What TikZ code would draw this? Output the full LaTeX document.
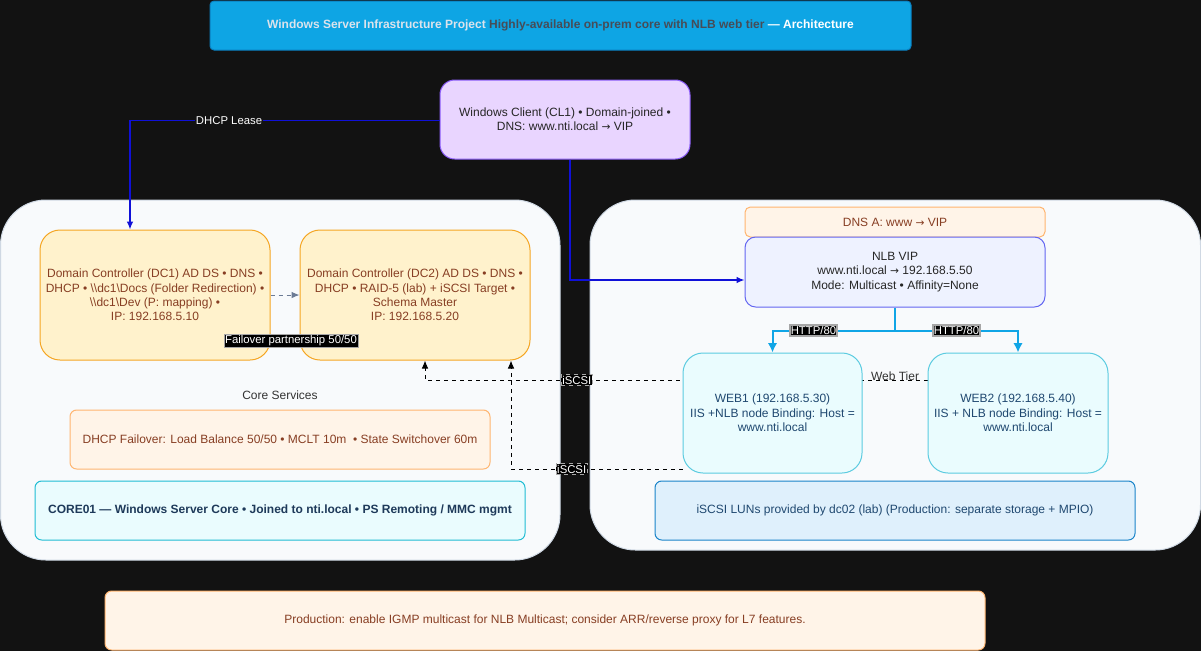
\documentclass[tikz,border=0pt]{standalone}
\usepackage{fontspec}
\setmainfont{Liberation Sans}
\newfontfamily\arrowfont{DejaVu Sans}
\newcommand{\toarr}{{\arrowfont\fontsize{8}{9}\selectfont →}}
\usetikzlibrary{arrows.meta}
\definecolor{bgdark}{HTML}{121212}
\definecolor{ttlfill}{HTML}{0EA5E4}
\definecolor{ttlline}{HTML}{0A7FC0}
\definecolor{ttlgrey}{HTML}{DCE3EC}
\definecolor{ttldark}{HTML}{474C57}
\definecolor{zonefill}{HTML}{F8FAFC}
\definecolor{zoneline}{HTML}{CFD8E3}
\definecolor{clfill}{HTML}{E9D5FF}
\definecolor{clline}{HTML}{8B5CF6}
\definecolor{dcfill}{HTML}{FFF2CC}
\definecolor{dcline}{HTML}{F5A623}
\definecolor{brown}{HTML}{873E23}
\definecolor{notefill}{HTML}{FFF4E8}
\definecolor{noteline}{HTML}{FFB570}
\definecolor{cyfill}{HTML}{EAFCFE}
\definecolor{cyline}{HTML}{1FBCD3}
\definecolor{cytext}{HTML}{1E3A5A}
\definecolor{nlbfill}{HTML}{EEF2FF}
\definecolor{nlbline}{HTML}{6366F1}
\definecolor{webline}{HTML}{5CCBE0}
\definecolor{webtext}{HTML}{1F4870}
\definecolor{lunfill}{HTML}{DFF0FC}
\definecolor{lunline}{HTML}{1A84C9}
\definecolor{lease}{HTML}{1010D8}
\definecolor{http}{HTML}{10A5E6}
\definecolor{slate}{HTML}{6C7B95}
\pgfdeclarelayer{back}
\pgfdeclarelayer{edges}
\pgfsetlayers{back,edges,main}
\tikzset{
  box/.style={draw, align=center, inner sep=1pt, line width=0.75pt, font=\fontsize{9}{10.8}\selectfont},
  lbl/.style={fill=black, draw=gray!70, text=white, inner sep=0.8pt, font=\fontsize{8.5}{9}\selectfont},
  plain/.style={text=#1, font=\fontsize{9}{10.8}\selectfont},
  leaseline/.style={draw=lease, line width=1pt, -{Latex[length=6pt,width=5pt]}},
  httpline/.style={draw=http, line width=1.5pt, -{Latex[length=7pt,width=7pt]}},
  iscsiline/.style={draw=black, line width=0.75pt, dashed, -{Latex[length=6pt,width=5pt]}}
}
\begin{document}
\begin{tikzpicture}[x=0.75pt,y=-0.75pt]
\begin{pgfonlayer}{back}
\fill[bgdark] (0,0) rectangle (1201,651);
\draw[fill=zonefill, draw=zoneline, line width=0.75pt, rounded corners=34pt] (0.5,200) rectangle (560,560);
\draw[fill=zonefill, draw=zoneline, line width=0.75pt, rounded corners=34pt] (590,200) rectangle (1200.5,550);
\end{pgfonlayer}

\node[box, fill=ttlfill, draw=ttlline, rounded corners=3pt, minimum width=525.75pt, minimum height=36.75pt] (title) at (560.5,25.5)
  {\bfseries\textcolor{ttlgrey}{Windows Server Infrastructure Project} \textcolor{ttldark}{Highly-available on-prem core with NLB web tier} \textcolor{white}{— Architecture}};
\node[box, fill=clfill, draw=clline, text=black!85, rounded corners=11pt, minimum width=187.5pt, minimum height=59.25pt] (cl1) at (565,119.5)
  {Windows Client (CL1) • Domain-joined •\\DNS: www.nti.local \toarr{} VIP};

\node[box, fill=dcfill, draw=dcline, text=brown, rounded corners=15pt, minimum width=172.5pt, minimum height=97.5pt] (dc1) at (155,295)
  {Domain Controller (DC1) AD DS • DNS •\\DHCP • \textbackslash\textbackslash dc1\textbackslash Docs (Folder Redirection) •\\\textbackslash\textbackslash dc1\textbackslash Dev (P: mapping) •\\IP: 192.168.5.10};
\node[box, fill=dcfill, draw=dcline, text=brown, rounded corners=15pt, minimum width=172.5pt, minimum height=97.5pt] (dc2) at (415,295)
  {Domain Controller (DC2) AD DS • DNS •\\DHCP • RAID-5 (lab) + iSCSI Target •\\Schema Master\\IP: 192.168.5.20};
\node[plain=black!80] (core) at (280,395) {Core Services};
\node[box, fill=notefill, draw=noteline, text=brown, rounded corners=5pt, minimum width=315pt, minimum height=44.25pt] (dhcp) at (280,439.5)
  {DHCP Failover: Load Balance 50/50 • MCLT 10m\ \ • State Switchover 60m};
\node[box, fill=cyfill, draw=cyline, text=cytext, rounded corners=5pt, minimum width=367.5pt, minimum height=44.25pt, font=\fontsize{9}{10.8}\selectfont\bfseries] (core01) at (280,510.5)
  {CORE01 — Windows Server Core • Joined to nti.local • PS Remoting / MMC mgmt};

\node[box, fill=notefill, draw=noteline, text=brown, rounded corners=4pt, minimum width=225pt, minimum height=22.5pt] (dnsa) at (895,222)
  {DNS A: www \toarr{} VIP};
\node[box, fill=nlbfill, draw=nlbline, text=black!85, rounded corners=8pt, minimum width=225pt, minimum height=52.5pt] (nlb) at (895,272)
  {NLB VIP\\www.nti.local \toarr{} 192.168.5.50\\Mode: Multicast • Affinity=None};
\node[box, fill=cyfill, draw=webline, text=webtext, rounded corners=15pt, minimum width=134.25pt, minimum height=90pt] (web1) at (772.5,413)
  {WEB1 (192.168.5.30)\\IIS +NLB node Binding: Host =\\www.nti.local};
\node[box, fill=cyfill, draw=webline, text=webtext, rounded corners=15pt, minimum width=135pt, minimum height=90pt] (web2) at (1018,413)
  {WEB2 (192.168.5.40)\\IIS + NLB node Binding: Host =\\www.nti.local};
\node[box, fill=lunfill, draw=lunline, text=webtext, rounded corners=5pt, minimum width=360pt, minimum height=44.25pt] (lun) at (895,510.5)
  {iSCSI LUNs provided by dc02 (lab) (Production: separate storage + MPIO)};
\node[box, fill=notefill, draw=noteline, text=brown, rounded corners=5pt, minimum width=660pt, minimum height=44.25pt] (prod) at (545,620.5)
  {Production: enable IGMP multicast for NLB Multicast; consider ARR/reverse proxy for L7 features.};

\draw[leaseline] ([yshift=-0.75pt]cl1.west) -| node[pos=0.34, fill=bgdark, inner sep=1pt, text=white, font=\fontsize{8.5}{9}\selectfont] {DHCP Lease} ([xshift=-18.75pt]dc1.north);
\draw[leaseline] ([xshift=3.75pt]cl1.south) |- ([yshift=-6pt]nlb.west);
\draw[draw=slate, line width=0.75pt, dashed, -{Latex[length=6pt,width=5pt]}] (dc1) -- (dc2);
\node[lbl] (failover) at (291,341) {Failover partnership 50/50};

\draw[draw=http, line width=1.5pt] (nlb.south) -- ++(0,23) coordinate (fork);
\draw[httpline] (fork) -| node[pos=0.333, lbl] {HTTP/80} (web1.north);
\draw[httpline] (fork) -| node[pos=0.25, lbl] {HTTP/80} (web2.north);

\begin{pgfonlayer}{edges}
\draw[iscsiline] ([yshift=24.75pt]web2.west) -| node[pos=0.349, lbl] {iSCSI} ([xshift=7.5pt]dc2.south);
\draw[iscsiline] ([yshift=-42pt]web1.west) -| node[pos=0.323, lbl] {iSCSI} ([xshift=72pt]dc2.south);
\end{pgfonlayer}
\node[plain=black!80] (webtier) at (895,376) {Web Tier};
\end{tikzpicture}
\end{document}
